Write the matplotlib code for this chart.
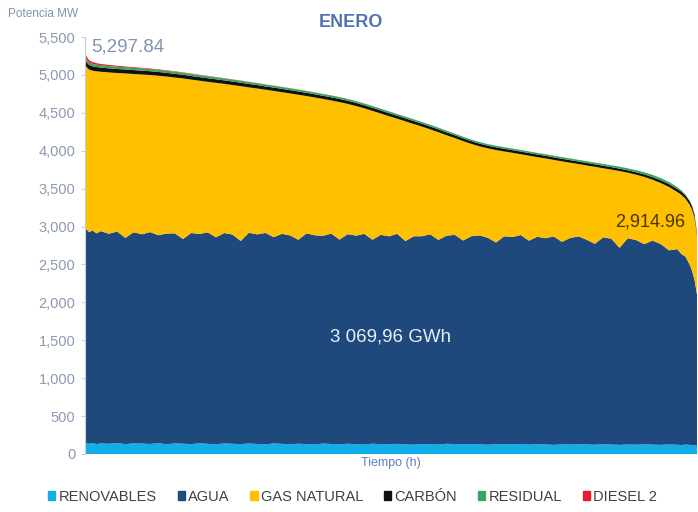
import matplotlib
matplotlib.use("Agg")
import matplotlib.pyplot as plt
import matplotlib.patches as mpatches
from matplotlib.ticker import FuncFormatter
import numpy as np

plt.rcParams["font.family"] = ["Liberation Sans", "DejaVu Sans"]

# Horas ordenadas (curva de duración de carga, enero = 744 h)
hours = [1, 3, 6, 10, 15, 20, 30, 40, 50, 60, 70, 80, 90, 100, 110, 120, 130,
         140, 150, 160, 170, 180, 190, 200, 210, 220, 230, 240, 250, 260, 270,
         280, 290, 300, 310, 320, 330, 340, 350, 360, 370, 380, 390, 400, 410,
         420, 430, 440, 450, 460, 470, 480, 490, 500, 510, 520, 530, 540, 550,
         560, 570, 580, 590, 600, 610, 620, 630, 640, 650, 660, 670, 680, 690,
         700, 710, 720, 725, 730, 735, 738, 741, 744]

total = [5298, 5240, 5195, 5170, 5155, 5145, 5132, 5121, 5112, 5103, 5094, 5085,
         5074, 5062, 5048, 5034, 5018, 5002, 4987, 4972, 4957, 4942, 4926, 4910,
         4893, 4876, 4860, 4843, 4826, 4808, 4790, 4770, 4750, 4730, 4708, 4683,
         4655, 4624, 4590, 4555, 4520, 4485, 4450, 4415, 4380, 4343, 4305, 4265,
         4225, 4185, 4148, 4115, 4088, 4066, 4047, 4029, 4010, 3991, 3972, 3954,
         3935, 3916, 3898, 3880, 3862, 3844, 3826, 3808, 3789, 3768, 3744, 3716,
         3682, 3640, 3588, 3520, 3478, 3425, 3345, 3275, 3160, 2915]

renovables = [150, 140, 135, 145, 130, 140, 135, 145, 130, 140, 138, 132, 145, 128,
              140, 136, 130, 142, 134, 128, 140, 135, 130, 138, 132, 126, 140, 134,
              128, 136, 130, 125, 138, 132, 128, 135, 130, 124, 136, 130, 126, 134,
              128, 122, 132, 128, 124, 135, 130, 126, 132, 128, 122, 130, 126, 132,
              128, 124, 130, 126, 120, 128, 124, 130, 126, 122, 128, 124, 120, 126,
              122, 128, 124, 120, 126, 122, 118, 124, 120, 118, 116, 115]

agua = [2850, 2820, 2790, 2805, 2780, 2800, 2770, 2790, 2720, 2785, 2760, 2795,
        2740, 2780, 2770, 2700, 2785, 2760, 2790, 2730, 2775, 2760, 2680, 2780,
        2765, 2790, 2720, 2770, 2755, 2690, 2780, 2760, 2740, 2775, 2700, 2765,
        2750, 2780, 2690, 2760, 2745, 2770, 2680, 2750, 2740, 2770, 2700, 2745,
        2760, 2690, 2740, 2755, 2730, 2660, 2745, 2730, 2760, 2690, 2735, 2720,
        2750, 2670, 2725, 2740, 2700, 2650, 2730, 2715, 2600, 2720, 2700, 2640,
        2690, 2650, 2560, 2580, 2520, 2480, 2380, 2300, 2180, 1990]

carbon = [70, 64, 60, 58, 56, 55, 54, 53, 52, 52, 51, 50, 50, 49, 49, 48, 48, 47,
          47, 46, 46, 46, 45, 45, 45, 44, 44, 44, 43, 43, 43, 42, 42, 42, 41, 41,
          41, 40, 40, 40, 40, 39, 39, 39, 38, 38, 38, 38, 37, 37, 37, 36, 36, 36,
          36, 35, 35, 35, 35, 34, 34, 34, 34, 33, 33, 33, 33, 33, 32, 32, 32, 33,
          34, 36, 38, 40, 42, 44, 46, 46, 42, 25]

residual = [40, 36, 34, 32, 31, 30, 30, 30, 29, 29, 29, 28, 28, 28, 28, 27, 27,
            27, 27, 26, 26, 26, 26, 26, 25, 25, 25, 25, 25, 24, 24, 24, 24, 24,
            24, 23, 23, 23, 23, 23, 23, 22, 22, 22, 22, 22, 22, 22, 21, 21, 21,
            21, 21, 21, 21, 21, 21, 21, 21, 21, 22, 22, 22, 22, 23, 23, 24, 24,
            25, 26, 27, 28, 30, 30, 28, 24, 18, 14, 10, 8, 5, 2]

diesel = [45, 38, 30, 24, 20, 18, 15, 13, 11, 10, 9, 8, 7, 6, 6, 5, 5, 4, 4, 4,
          3, 3, 3, 3, 2, 2, 2, 2, 2, 2, 2, 1, 1, 1, 1, 1, 1, 1, 1, 1, 1, 1, 1,
          1, 1, 1, 1, 1, 0, 0, 0, 0, 0, 0, 0, 0, 0, 0, 0, 0, 0, 0, 0, 0, 0, 0,
          0, 0, 0, 0, 0, 0, 0, 0, 0, 0, 0, 0, 0, 0, 0, 0]

# gas natural = lo que falta para llegar a la demanda total
gas_natural = (np.array(total) - np.array(renovables) - np.array(agua)
               - np.array(carbon) - np.array(residual) - np.array(diesel))

labels = ["RENOVABLES", "AGUA", "GAS NATURAL", "CARBÓN", "RESIDUAL", "DIESEL 2"]
colors = ["#12AEEA", "#1F497D", "#FFC000", "#111111", "#3BA55C", "#E0202E"]

fig = plt.figure(figsize=(6.98, 5.12), dpi=100)
ax = fig.add_axes([0.1218, 0.1133, 0.8768, 0.8144])

ax.stackplot(hours, renovables, agua, gas_natural, carbon, residual, diesel,
             colors=colors, linewidth=0)

ax.set_xlim(1, 744)
ax.set_ylim(0, 5500)
ax.set_yticks(np.arange(0, 5501, 500))
ax.yaxis.set_major_formatter(FuncFormatter(lambda v, p: f"{int(v):,}"))
ax.set_xticks([])
ax.tick_params(axis="y", colors="#C8CED8", labelcolor="#8C9AB0", labelsize=10.5,
               length=3, width=0.8, direction="out", pad=4)
for side in ["top", "right", "bottom"]:
    ax.spines[side].set_visible(False)
ax.spines["left"].set_color("#C8CED8")
ax.spines["left"].set_linewidth(0.8)

# textos
fig.text(0.012, 0.972, "Potencia MW", fontsize=8.5, color="#7F93B3",
         ha="left", va="center")
fig.text(0.503, 0.957, "ENERO", fontsize=13, fontweight="bold",
         color="#4F74B4", ha="center", va="center")
ax.text(hours[0] + 8, 5250, f"{total[0] - 0.16:,.2f}", fontsize=13.5,
        color="#8094B2", ha="left", va="bottom")
ax.text(730, 2950, "2,914.96", fontsize=13, color="#4A3300",
        ha="right", va="bottom")
ax.text(372, 1540, "3 069,96 GWh", fontsize=13.5, color="#E8EEF8",
        ha="center", va="center")
ax.set_xlabel("Tiempo (h)", fontsize=9, color="#5C80C0", labelpad=2)

handles = [mpatches.Patch(color=c, label=l) for c, l in zip(colors, labels)]
fig.legend(handles=handles, loc="center", bbox_to_anchor=(0.505, 0.03),
           ncol=6, frameon=False, fontsize=10.5, handlelength=0.5,
           handleheight=0.5, handletextpad=0.2, columnspacing=1.45,
           labelcolor="#404040")

fig.savefig("out.png", dpi=100)
